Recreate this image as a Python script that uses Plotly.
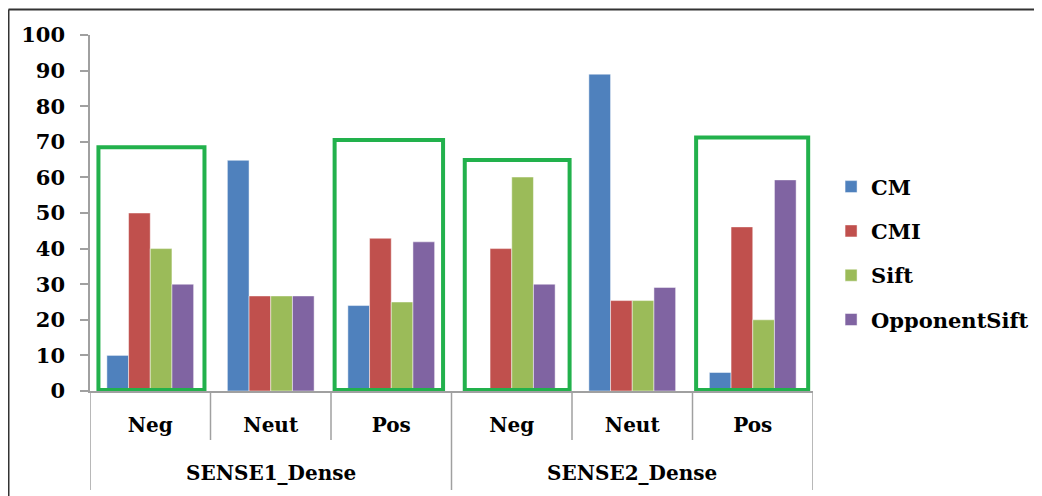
import plotly.graph_objects as go

# ---- data ----
datasets = ["SENSE1_Dense", "SENSE2_Dense"]
sentiments = ["Neg", "Neut", "Pos", "Neg", "Neut", "Pos"]
cm = [10, 64.8, 24, 0, 89, 5.2]
cmi = [50, 26.7, 42.9, 40, 25.4, 46.1]
sift = [40, 26.7, 25, 60.1, 25.4, 20]
opponent_sift = [30, 26.7, 41.9, 30, 29.1, 59.3]
series_names = ["CM", "CMI", "Sift", "OpponentSift"]
y_ticks = list(range(0, 101, 10))

# highlight boxes: category index, left/right offset, top value
box_index = [0, 2, 3, 5]
box_left = [-0.43, -0.47, -0.39, -0.47]
box_right = [0.45, 0.43, 0.48, 0.46]
box_top = [68.5, 70.5, 64.9, 71.2]

colors = ["#4F81BD", "#C0504D", "#9BBB59", "#8064A2"]
FONT = "DejaVu Serif"
AXC = "#A0A0A0"

# page has an 8px body offset; figure sized to fit window
W, H = 1034, 488
ML, MT = 82, 27
PR, PB = 805, 383           # plot right / bottom in figure px
MR, MB = W - PR, H - PB
pw, ph = PR - ML, PB - MT

n = len(sentiments)
xpos = list(range(n))
per_group = n // len(datasets)

fig = go.Figure()
for name, vals, col in zip(series_names, [cm, cmi, sift, opponent_sift], colors):
    fig.add_trace(go.Bar(
        x=xpos, y=vals, name=name,
        marker=dict(color=col, line=dict(color="rgba(255,255,255,0.6)", width=0.8)),
        legendgroup=name,
    ))

shapes = []
for idx, l, r, t in zip(box_index, box_left, box_right, box_top):
    shapes.append(dict(
        type="rect", xref="x", yref="y",
        x0=idx + l, x1=idx + r, y0=0.3, y1=t,
        line=dict(color="#22B14C", width=4), fillcolor="rgba(0,0,0,0)", layer="above",
    ))

# category dividers below the axis
for b in range(n + 1):
    outer = (b % per_group == 0)
    depth = 99 if outer else 49
    shapes.append(dict(type="line", xref="x", yref="paper",
                       x0=b - 0.5, x1=b - 0.5, y0=0, y1=-depth / ph,
                       line=dict(color=AXC, width=1.5)))

# outer frame (top and left edges)
fx0 = (0.5 - ML) / pw
fy_top = (PB - 1.5) / ph
fy_bot = (PB - H) / ph
shapes.append(dict(type="line", xref="paper", yref="paper", x0=fx0, x1=(W - ML) / pw,
                   y0=fy_top, y1=fy_top, line=dict(color="#333333", width=2)))
shapes.append(dict(type="line", xref="paper", yref="paper", x0=fx0, x1=fx0,
                   y0=fy_top, y1=fy_bot, line=dict(color="#333333", width=2)))

annotations = []
for g, ds in enumerate(datasets):
    center = g * per_group + (per_group - 1) / 2
    annotations.append(dict(
        x=center, xref="x", y=-82 / ph, yref="paper", text=ds, showarrow=False,
        xanchor="center", yanchor="middle",
        font=dict(family=FONT, size=20, color="black", weight="bold"),
    ))

fig.update_layout(
    width=W, height=H,
    margin=dict(l=ML, r=MR, t=MT, b=MB, autoexpand=False),
    paper_bgcolor="white", plot_bgcolor="white",
    barmode="group", bargap=0.28, bargroupgap=0,
    font=dict(family=FONT, size=20, color="black"),
    showlegend=True,
    legend=dict(
        xref="container", yref="container",
        x=0.796, y=0.497, xanchor="left", yanchor="middle",
        font=dict(family=FONT, size=21, color="black", weight="bold"),
        tracegroupgap=14, traceorder="grouped",
        bgcolor="rgba(0,0,0,0)",
    ),
    shapes=shapes,
    annotations=annotations,
    xaxis=dict(
        range=[-0.5, n - 0.5],
        tickvals=xpos, ticktext=sentiments,
        showline=True, linecolor=AXC, linewidth=1.5,
        ticks="", ticklabelstandoff=15,
        tickfont=dict(family=FONT, size=20, color="black", weight="bold"),
        showgrid=False, zeroline=False,
    ),
    yaxis=dict(
        range=[0, 100], tickvals=y_ticks,
        showline=True, linecolor=AXC, linewidth=1.5,
        ticks="outside", ticklen=8, tickcolor=AXC, tickwidth=1.5,
        showgrid=False, zeroline=False,
        tickfont=dict(family=FONT, size=21, color="black", weight="bold"),
        ticklabelstandoff=11,
    ),
)

fig.write_html("out.html")
